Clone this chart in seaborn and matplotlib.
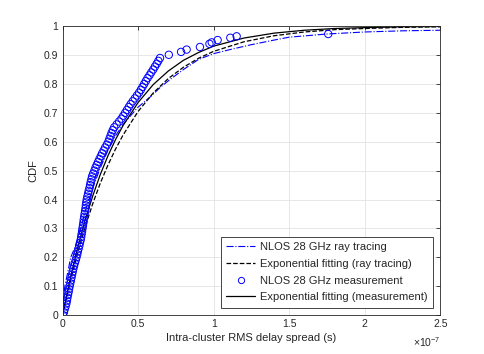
import numpy as np
import pandas as pd
import seaborn as sns
from matplotlib import pyplot as plt
from matplotlib.lines import Line2D

# delay spread in units of 1e-7 s
meas_x = [0.003, 0.009, 0.014, 0.020, 0.025, 0.029, 0.032, 0.036, 0.040, 0.043,
          0.047, 0.051, 0.055, 0.059, 0.063, 0.067, 0.071, 0.076, 0.081, 0.087,
          0.092, 0.097, 0.101, 0.106, 0.111, 0.115, 0.120, 0.123, 0.126, 0.129,
          0.132, 0.135, 0.138, 0.140, 0.143, 0.146, 0.149, 0.152, 0.154, 0.157,
          0.160, 0.164, 0.169, 0.173, 0.178, 0.182, 0.186, 0.191, 0.195, 0.203,
          0.211, 0.218, 0.226, 0.235, 0.244, 0.253, 0.262, 0.272, 0.282, 0.293,
          0.303, 0.310, 0.317, 0.324, 0.332, 0.342, 0.358, 0.374, 0.390, 0.402,
          0.414, 0.426, 0.438, 0.450, 0.464, 0.478, 0.492, 0.506, 0.518, 0.529,
          0.540, 0.551, 0.562, 0.575, 0.587, 0.600, 0.611, 0.623, 0.634, 0.645,
          0.703, 0.784, 0.821, 0.909, 0.972, 0.987, 1.026, 1.110, 1.152, 1.758]
meas_y = [0.00, 0.01, 0.02, 0.03, 0.04, 0.05, 0.06, 0.07, 0.08, 0.09,
          0.10, 0.11, 0.12, 0.13, 0.14, 0.15, 0.16, 0.17, 0.18, 0.19,
          0.20, 0.21, 0.22, 0.23, 0.24, 0.25, 0.26, 0.27, 0.28, 0.29,
          0.30, 0.31, 0.32, 0.33, 0.34, 0.35, 0.36, 0.37, 0.38, 0.39,
          0.40, 0.41, 0.42, 0.43, 0.44, 0.45, 0.46, 0.47, 0.48, 0.49,
          0.50, 0.51, 0.52, 0.53, 0.54, 0.55, 0.56, 0.57, 0.58, 0.59,
          0.60, 0.61, 0.62, 0.63, 0.64, 0.65, 0.66, 0.67, 0.68, 0.69,
          0.70, 0.71, 0.72, 0.73, 0.74, 0.75, 0.76, 0.77, 0.78, 0.79,
          0.80, 0.81, 0.82, 0.83, 0.84, 0.85, 0.86, 0.87, 0.88, 0.89,
          0.901, 0.911, 0.919, 0.928, 0.939, 0.944, 0.952, 0.960, 0.965, 0.973]

ray_x = [0, 0.005, 0.015, 0.035, 0.054, 0.083, 0.11, 0.15, 0.2, 0.25, 0.3, 0.35,
         0.4, 0.45, 0.5, 0.58, 0.65, 0.71, 0.8, 0.9, 1.0, 1.1, 1.24, 1.4, 1.5,
         1.75, 2.0, 2.25, 2.5]
ray_y = [0, 0.05, 0.10, 0.15, 0.20, 0.236, 0.28, 0.36, 0.44, 0.51, 0.57, 0.62,
         0.66, 0.69, 0.72, 0.755, 0.79, 0.815, 0.85, 0.885, 0.905, 0.918, 0.935,
         0.952, 0.962, 0.973, 0.98, 0.984, 0.986]

fit_x = [0, 0.05, 0.1, 0.15, 0.2, 0.25, 0.3, 0.35, 0.4, 0.5, 0.6, 0.7, 0.8, 0.9,
         1.0, 1.2, 1.4, 1.6, 1.8, 2.0, 2.25, 2.5]
fit_ray_y = [0, 0.115, 0.216, 0.306, 0.386, 0.457, 0.519, 0.574, 0.623, 0.705,
             0.769, 0.819, 0.858, 0.889, 0.913, 0.946, 0.967, 0.980, 0.988,
             0.992, 0.996, 0.998]
fit_meas_y = [0, 0.125, 0.234, 0.330, 0.413, 0.487, 0.551, 0.607, 0.656, 0.736,
              0.798, 0.845, 0.882, 0.909, 0.931, 0.959, 0.976, 0.986, 0.992,
              0.995, 0.998, 0.999]

labels = ["NLOS 28 GHz ray tracing", "Exponential fitting (ray tracing)",
          "NLOS 28 GHz measurement", "Exponential fitting (measurement)"]

sns.set_style("white")
plt.rcParams['font.family'] = ['Liberation Sans', 'DejaVu Sans']
plt.rcParams['mathtext.fontset'] = 'custom'
plt.rcParams['mathtext.rm'] = 'Liberation Sans'

gray = '#262626'
fig = plt.figure(figsize=(4.85, 3.54), dpi=100)
ax = fig.add_axes([0.129, 0.110, 0.779, 0.816])

sns.lineplot(x=ray_x, y=ray_y, ax=ax, color='blue', lw=0.8, linestyle='-.')
sns.lineplot(x=fit_x, y=fit_ray_y, ax=ax, color='black', lw=0.9, linestyle='--')
sns.scatterplot(x=meas_x, y=meas_y, ax=ax, marker='o', s=28,
                facecolor='none', edgecolor='blue', linewidth=0.7, zorder=3)
sns.lineplot(x=fit_x, y=fit_meas_y, ax=ax, color='black', lw=0.9)

ax.set_xlim(0, 2.5)
ax.set_ylim(0, 1)
ax.set_xticks([0, 0.5, 1, 1.5, 2, 2.5])
ax.set_xticklabels(['0', '0.5', '1', '1.5', '2', '2.5'])
ax.set_yticks(np.arange(0, 1.01, 0.1))
ax.set_yticklabels(['0', '0.1', '0.2', '0.3', '0.4', '0.5', '0.6', '0.7', '0.8', '0.9', '1'])
ax.grid(True, color='#e3e3e3', lw=0.6)
ax.set_axisbelow(True)
for s in ax.spines.values():
    s.set_color(gray)
    s.set_linewidth(0.6)
ax.tick_params(direction='in', length=3, width=0.6, color=gray, labelsize=7.5,
               labelcolor=gray, top=True, right=True, pad=3)

ax.set_xlabel("Intra-cluster RMS delay spread (s)", fontsize=8, color=gray, labelpad=3)
ax.set_ylabel("CDF", fontsize=8, color=gray, labelpad=4)
ax.text(1.0, -0.07, r"$\times10^{-7}$", transform=ax.transAxes, ha='right',
        va='top', fontsize=7.5, color=gray)

handles = [Line2D([], [], color='blue', lw=0.8, linestyle='-.'),
           Line2D([], [], color='black', lw=0.9, linestyle='--'),
           Line2D([], [], color='blue', marker='o', markersize=4.5,
                  markerfacecolor='none', linestyle='none', markeredgewidth=0.7),
           Line2D([], [], color='black', lw=0.9)]
leg = ax.legend(handles, labels, loc='lower right', bbox_to_anchor=(0.98, 0.025),
                fontsize=8, frameon=True, fancybox=False, framealpha=1,
                edgecolor=gray, handlelength=2.6, handletextpad=0.4,
                borderpad=0.5, labelspacing=0.6, borderaxespad=0)
leg.get_frame().set_linewidth(0.6)

plt.savefig('out.png', dpi=100)
